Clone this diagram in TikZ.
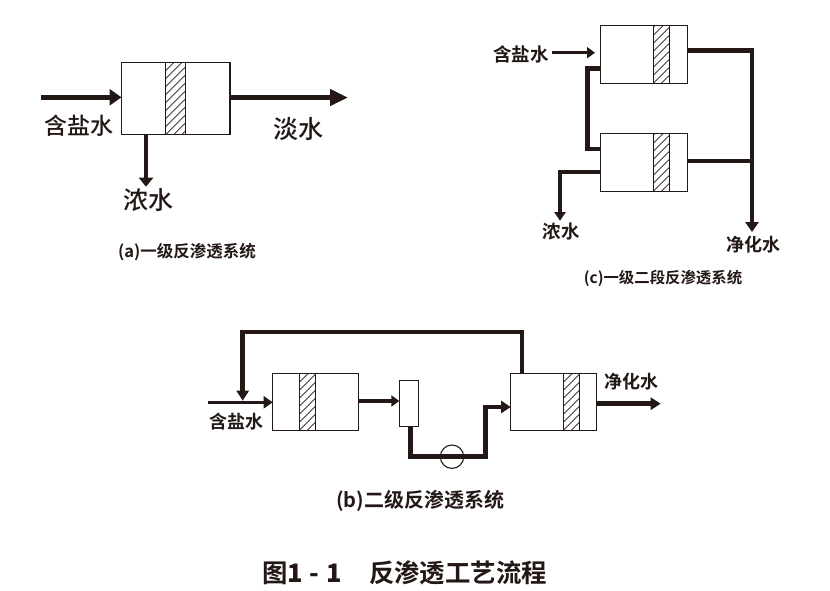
\documentclass[tikz,border=0pt]{standalone}
\usepackage{fontspec}
\setmainfont{Noto Sans CJK SC}[BoldFont={Noto Sans CJK SC Bold}]
\newfontfamily\labfont{Noto Sans CJK SC Medium}
\newfontfamily\titspaced{Noto Sans CJK SC Bold}[LetterSpace=28]
\usetikzlibrary{arrows.meta}
\definecolor{ink}{HTML}{231815}
\tikzset{
  unit/.style={draw=ink,line width=1.3pt,fill=white,inner sep=0pt,outer sep=0pt},
  membrane/.style={unit,path picture={
    \foreach \i in {-72,-64,...,24}{
      \draw[ink,line width=0.8pt] ([xshift=\i pt]path picture bounding box.south west) -- ++(80pt,80pt);}
  }},
  pipe/.style={ink,line width=#1,line join=miter},
  lab/.style={font=\labfont,text=ink,inner sep=0pt,outer sep=0pt},
  captxt/.style={font=\bfseries,text=ink,inner sep=0pt,outer sep=0pt},
}
\begin{document}
\begin{tikzpicture}[x=1pt,y=-1pt]
\useasboundingbox (0,0) rectangle (830,590);
% (a)
\node[unit,minimum width=108.5pt,minimum height=72pt] (boxa) at (175.75,98.7) {};
\node[membrane,minimum width=20pt,minimum height=72pt] (mema) at (175.7,98.7) {};
\coordinate (ina) at (41,97.3);
\coordinate (outa) at (348,97.5);
\coordinate (cona) at (146,186.7);
\draw[pipe=4.5pt,-{Triangle[length=12pt,width=16pt]}] (ina) -- (ina -| boxa.west);
\draw[pipe=4.5pt,-{Triangle[length=18pt,width=16pt]}] (outa -| boxa.east) -- (outa);
\draw[pipe=4.5pt,-{Triangle[length=9pt,width=14pt]}] (cona |- boxa.south) -- (cona);
\node[lab,font=\labfont\fontsize{23}{23}\selectfont] (la1) at (79,126) {含盐水};
\node[lab,font=\labfont\fontsize{25}{25}\selectfont] (la2) at (298,129) {淡水};
\node[lab,font=\labfont\fontsize{25}{25}\selectfont] (la3) at (148,200) {浓水};
\node[captxt,font=\bfseries\fontsize{16.5}{17}\selectfont] (capa) at (187,252) {(a)一级反渗透系统};
% (c)
\node[unit,minimum width=86.6pt,minimum height=58pt] (boxc1) at (644,54.3) {};
\node[membrane,minimum width=16pt,minimum height=58pt] (memc1) at (661.3,54.3) {};
\node[unit,minimum width=86.6pt,minimum height=58pt] (boxc2) at (644,162.3) {};
\node[membrane,minimum width=16pt,minimum height=58pt] (memc2) at (661.3,162.3) {};
\coordinate (inc) at (551.7,52.7);
\coordinate (inct) at (595,52.7);
\coordinate (linkt) at (587.3,68.3);
\coordinate (linkb) at (587.3,149);
\coordinate (outc1) at (752,50.7);
\coordinate (outc2) at (752,160.7);
\coordinate (outct) at (752,232);
\coordinate (conc1) at (560,172);
\coordinate (conc2) at (560,220.7);
\draw[pipe=3.5pt,-{Triangle[length=8pt,width=11pt]}] (inc) -- (inct);
\draw[pipe=4.5pt] (linkt -| boxc1.west) -- (linkt) -- (linkb) -- (linkb -| boxc2.west);
\draw[pipe=4pt] (outc2 -| boxc2.east) -- (outc2);
\draw[pipe=4.5pt,-{Triangle[length=10pt,width=13pt]}] (outc1 -| boxc1.east) -- (outc1) -- (outct);
\draw[pipe=3.5pt,-{Triangle[length=8.5pt,width=11pt]}] (conc1 -| boxc2.west) -- (conc1) -- (conc2);
\node[captxt,font=\bfseries\fontsize{18.5}{19}\selectfont] (lc1) at (521,54) {含盐水};
\node[captxt,font=\bfseries\fontsize{18.5}{19}\selectfont] (lc2) at (561,231.7) {浓水};
\node[captxt,font=\bfseries\fontsize{18}{18}\selectfont] (lc3) at (753,245) {净化水};
\node[captxt,font=\bfseries\fontsize{15.4}{16}\selectfont] (capc) at (663,278) {(c)一级二段反渗透系统};
% (b)
\node[unit,minimum width=85.6pt,minimum height=57pt] (boxb1) at (315.5,401.8) {};
\node[membrane,minimum width=16pt,minimum height=57pt] (memb1) at (307.3,401.8) {};
\node[unit,minimum width=86pt,minimum height=57pt] (boxb2) at (553.7,401.8) {};
\node[membrane,minimum width=16pt,minimum height=57pt] (memb2) at (571.3,401.8) {};
\node[unit,minimum width=19.4pt,minimum height=46pt] (filt) at (409,403.3) {};
\coordinate (inb) at (208,402.3);
\coordinate (fbs) at (522,373.3);
\coordinate (fbt) at (522,332);
\coordinate (fbl) at (242.7,332);
\coordinate (fbe) at (242.7,400.7);
\coordinate (mid) at (358,401);
\coordinate (fb) at (410.3,456.7);
\coordinate (pr) at (485.3,456.7);
\coordinate (pu) at (485.3,407);
\coordinate (outb) at (660.7,403.7);
\draw[pipe=3.5pt,-{Triangle[length=9pt,width=12pt]}] (inb) -- (inb -| boxb1.west);
\draw[pipe=4.5pt,-{Triangle[length=10pt,width=12pt]}] (fbs) -- (fbt) -- (fbl) -- (fbe);
\draw[pipe=3.5pt,-{Triangle[length=8pt,width=11pt]}] (mid -| boxb1.east) -- (mid -| filt.west);
\draw[pipe=4.5pt,-{Triangle[length=9.5pt,width=12pt]}] (fb |- filt.south) -- (fb) -- (pr) -- (pu) -- (pu -| boxb2.west);
\draw[pipe=4.5pt,-{Triangle[length=10pt,width=12pt]}] (outb -| boxb2.east) -- (outb);
\node[draw=ink,line width=1.1pt,circle,minimum size=23.4pt,inner sep=0pt] (pump) at (452,456.7) {};
\node[captxt,font=\bfseries\fontsize{18}{18}\selectfont] (lb1) at (631,382) {净化水};
\node[captxt,font=\bfseries\fontsize{18}{18}\selectfont] (lb2) at (236.7,422) {含盐水};
\node[captxt,font=\bfseries\fontsize{20}{20}\selectfont] (capb) at (420,501) {(b)二级反渗透系统};
% title
\node[captxt,font=\bfseries\fontsize{25.4}{26}\selectfont,anchor=west] (t1) at (262,573) {图{\titspaced\fontsize{25.4}{26}\selectfont 1-1}};
\node[captxt,font=\bfseries\fontsize{25.4}{26}\selectfont,anchor=west] (t2) at (369,573) {反渗透工艺流程};
\end{tikzpicture}
\end{document}
